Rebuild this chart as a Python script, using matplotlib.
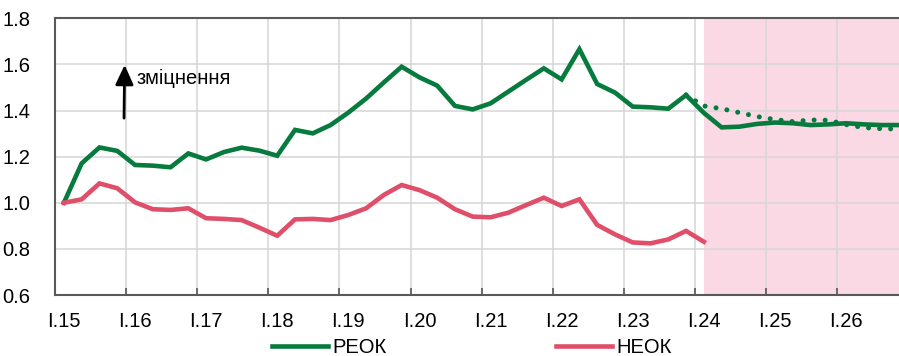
import matplotlib
matplotlib.use("Agg")
import matplotlib.pyplot as plt

plt.rcParams['font.family'] = ['Liberation Sans', 'DejaVu Sans']

# quarterly index values, 2015 Q1 .. 2026 Q4
reok = [1.000, 1.171, 1.240, 1.225,
        1.164, 1.161, 1.154, 1.214,
        1.188, 1.220, 1.239, 1.226,
        1.204, 1.316, 1.301, 1.337,
        1.391, 1.452, 1.522, 1.590,
        1.544, 1.508, 1.420, 1.405,
        1.431, 1.482, 1.533, 1.583,
        1.535, 1.666, 1.515, 1.478,
        1.417, 1.414, 1.408, 1.467,
        1.390, 1.327, 1.330, 1.342,
        1.348, 1.345, 1.337, 1.340,
        1.345, 1.340, 1.337, 1.337]

# 2015 Q1 .. 2024 Q1
neok = [1.000, 1.015, 1.084, 1.063,
        1.002, 0.972, 0.969, 0.976,
        0.933, 0.930, 0.925, 0.892,
        0.857, 0.928, 0.930, 0.925,
        0.947, 0.976, 1.034, 1.077,
        1.055, 1.022, 0.972, 0.940,
        0.937, 0.957, 0.990, 1.022,
        0.986, 1.015, 0.904, 0.863,
        0.828, 0.824, 0.841, 0.878,
        0.831]

# previous forecast (dotted), 2023 Q4 .. 2026 Q4
reok_prev = [1.467,
             1.420, 1.408, 1.391, 1.374,
             1.361, 1.352, 1.359, 1.358,
             1.339, 1.326, 1.321, 1.320]

years = list(range(15, 27))
year_labels = ['I.%d' % y for y in years]

# x position = middle of quarter, in years
def qx(start, n):
    return [start + (i + 0.5) / 4 for i in range(n)]

x_reok = qx(2015, len(reok))
x_neok = qx(2015, len(neok))
x_prev = qx(2023.75, len(reok_prev))

green = '#077A3E'
red = '#DF4F6A'

fig = plt.figure(figsize=(8.99, 3.56), dpi=100)
ax = fig.add_axes([0.0612, 0.1713, 0.9388, 0.7773])

ax.axvspan(2024.125, 2027.5, color='#FAD9E5', lw=0, zorder=0)

ax.plot(x_prev, reok_prev, color=green, lw=3.6, linestyle=(0, (0.01, 2.2)),
        dash_capstyle='round', zorder=3)
ax.plot(x_reok, reok, color=green, lw=3.3, label='РЕОК', zorder=4,
        solid_joinstyle='miter')
ax.plot(x_neok, neok, color=red, lw=3.3, label='НЕОК', zorder=4,
        solid_joinstyle='miter')

ax.set_xlim(2015, 2026.87)
ax.set_ylim(0.6, 1.8)
ax.set_yticks([0.6, 0.8, 1.0, 1.2, 1.4, 1.6, 1.8])
ax.set_yticklabels(['%.1f' % v for v in [0.6, 0.8, 1.0, 1.2, 1.4, 1.6, 1.8]])

ax.set_xticks([2000 + y for y in years])
ax.set_xticklabels([])
ax.set_xticks([2000 + y + 0.125 for y in years], minor=True)
ax.set_xticklabels(year_labels, minor=True)
ax.tick_params(axis='x', which='major', direction='in', length=5, width=1.2, color='#555555')
ax.tick_params(axis='x', which='minor', length=0, pad=12, labelsize=14.5)
ax.tick_params(axis='y', direction='in', length=0, pad=18, labelsize=14.5)

ax.grid(True, which='major', color='#D6D6D6', lw=1.1)
ax.set_axisbelow(True)

for s in ['left', 'bottom', 'top']:
    ax.spines[s].set_color('#595959')
    ax.spines[s].set_linewidth(1.5)
ax.spines['right'].set_visible(False)

ax.annotate('', xy=(2015.98, 1.61), xytext=(2015.97, 1.355),
            arrowprops=dict(arrowstyle='-|>,head_length=1.2,head_width=0.55',
                            color='black', lw=2.0))
ax.text(2016.15, 1.54, 'зміцнення', fontsize=14.5, va='center', ha='left')

fig.legend(loc='center', bbox_to_anchor=(0.5245, 0.025), ncol=2, frameon=False,
           fontsize=14.5, handlelength=2.8, handletextpad=0.2, columnspacing=8.4,
           borderaxespad=0, borderpad=0)

fig.savefig('out.png', dpi=100)
